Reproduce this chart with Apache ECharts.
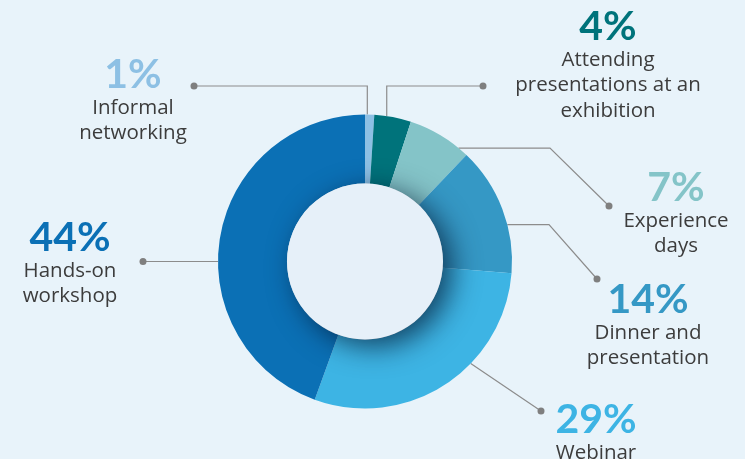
<!DOCTYPE html>
<html><head><meta charset="utf-8">
<script src="https://cdn.jsdelivr.net/npm/echarts@6/dist/echarts.min.js"></script>
<style>html,body{margin:0;padding:0;background:#e8f3fa}#c{width:745px;height:459px}</style>
</head><body><div id="c"></div>
<script>
// ---- data ----
const categories = ['Informal\nnetworking', 'Attending\npresentations at an\nexhibition', 'Experience\ndays', 'Dinner and\npresentation', 'Webinar', 'Hands-on\nworkshop'];
const values = [1, 4, 7, 14, 29, 44];
const colors = ['#8dc0e4', '#00737b', '#84c4c8', '#3598c5', '#3db4e4', '#0b70b5'];

// ---- layout / style ----
const CX = 365, CY = 261.5, R_OUT = 147, R_IN = 78;
const labelPos = [[133, 55], [608, 7], [676, 168], [648, 280], [596, 400], [70, 218]];
const leaders = [
  {a: 0.9, type: 'v', y: 86, dot: [194, 86]},
  {a: 8.5, type: 'v', y: 86, dot: [483, 86]},
  {a: 39.5, type: 'h', x: 550, dot: [609, 206]},
  {a: 75.5, type: 'h', x: 549, dot: [597, 279]},
  {a: 134, type: 'd', dot: [541, 411]},
  {a: 270, type: 'd', dot: [143, 261.5]}
];
function edge(a) { const r = a * Math.PI / 180; return [CX + R_OUT * Math.sin(r), CY - R_OUT * Math.cos(r)]; }
function leaderPts(i) {
  const L = leaders[i], s = edge(L.a);
  if (L.type === 'v') return [s, [s[0], L.y], L.dot];
  if (L.type === 'h') return [s, [L.x, s[1]], L.dot];
  return [s, [(s[0] + L.dot[0]) / 2, (s[1] + L.dot[1]) / 2], L.dot];
}

const rich = {};
colors.forEach((c, i) => { rich['p' + i] = {fontFamily: 'Lato', fontWeight: 'bold', fontSize: 41, lineHeight: 40, color: c}; });
rich.n = {fontFamily: 'Open Sans', fontSize: 20.5, lineHeight: 25.5, color: '#3c3c3c'};

const chart = echarts.init(document.getElementById('c'), null, {renderer: 'canvas'});
chart.setOption({
  backgroundColor: '#e8f3fa',
  animation: false,
  series: [{
    type: 'pie',
    center: [CX, CY],
    radius: [R_IN, R_OUT],
    startAngle: 90,
    clockwise: true,
    avoidLabelOverlap: false,
    data: categories.map((n, i) => ({name: n, value: values[i], itemStyle: {color: colors[i]}})),
    label: {
      show: true,
      position: 'outside',
      formatter: p => '{p' + p.dataIndex + '|' + p.value + '%}\n' + p.name.split('\n').map(s => '{n|' + s + '}').join('\n'),
      rich: rich
    },
    labelLine: {show: true, smooth: false, lineStyle: {color: '#8c8c8c', width: 1.2}},
    labelLayout: params => ({
      x: labelPos[params.dataIndex][0],
      y: labelPos[params.dataIndex][1],
      align: 'center',
      verticalAlign: 'top',
      labelLinePoints: leaderPts(params.dataIndex)
    })
  }, {
    type: 'pie',
    center: [CX, CY],
    radius: [0, R_IN],
    silent: true,
    label: {show: false},
    labelLine: {show: false},
    data: [{value: 1, name: '', itemStyle: {color: '#e6f0f9', shadowBlur: 28, shadowColor: 'rgba(0,20,45,0.7)', shadowOffsetX: 9, shadowOffsetY: 7}}]
  }],
  graphic: leaders.map(L => ({type: 'circle', shape: {cx: L.dot[0], cy: L.dot[1], r: 3.5}, style: {fill: '#7f7f7f'}, z: 10}))
});
</script></body></html>
